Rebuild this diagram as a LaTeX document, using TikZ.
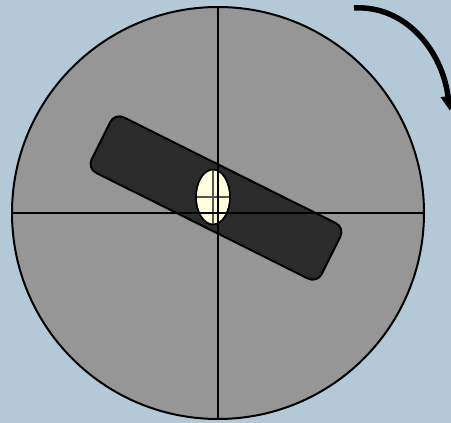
\documentclass[tikz,border=0pt]{standalone}
\usetikzlibrary{arrows.meta,shapes.geometric}
\definecolor{bg}{HTML}{B4C9D8}
\definecolor{disk}{HTML}{969696}
\definecolor{bar}{HTML}{2B2B2B}
\definecolor{lens}{HTML}{FFFFDD}
\definecolor{lensline}{HTML}{555555}
\tikzset{
  cross/.style={line width=2.8pt, black},
  barbox/.style={draw=black, line width=2pt, fill=bar, rotate=-26.5, minimum width=257pt, minimum height=62pt, rounded corners=10pt, inner sep=0pt},
  lensbox/.style={ellipse, draw=black, line width=1.4pt, fill=lens, minimum width=34pt, minimum height=55pt, inner sep=0pt},
  turn/.style={line width=5.5pt, black, -{Triangle[length=15pt,width=14pt]}}
}
\begin{document}
\begin{tikzpicture}[x=1pt,y=-1pt]
\fill[bg] (0,0) rectangle (451,423);
\useasboundingbox (0,0) rectangle (451,423);
\draw[line width=2pt, fill=disk] (218,213) circle (206pt);
\node[barbox] (slide) at (216,198) {};
\node[lensbox] (eye) at (213,197) {};
\begin{scope}
  \clip (213,197) ellipse (17pt and 27.5pt);
  \draw[lensline, line width=1.5pt] (213,160) -- (213,235) (190,197) -- (240,197);
\end{scope}
\node[lensbox, fill=none] at (213,197) {};
\coordinate (top) at (218,7);
\coordinate (bottom) at (218,419);
\coordinate (left) at (12,213);
\coordinate (right) at (424,213);
\draw[cross] (top) -- (bottom);
\draw[cross] (left) -- (right);
\coordinate (a0) at (354,8);
\coordinate (a1) at (450,111);
\draw[turn] (a0) .. controls (405,5) and (442,50) .. (a1);
\end{tikzpicture}
\end{document}
